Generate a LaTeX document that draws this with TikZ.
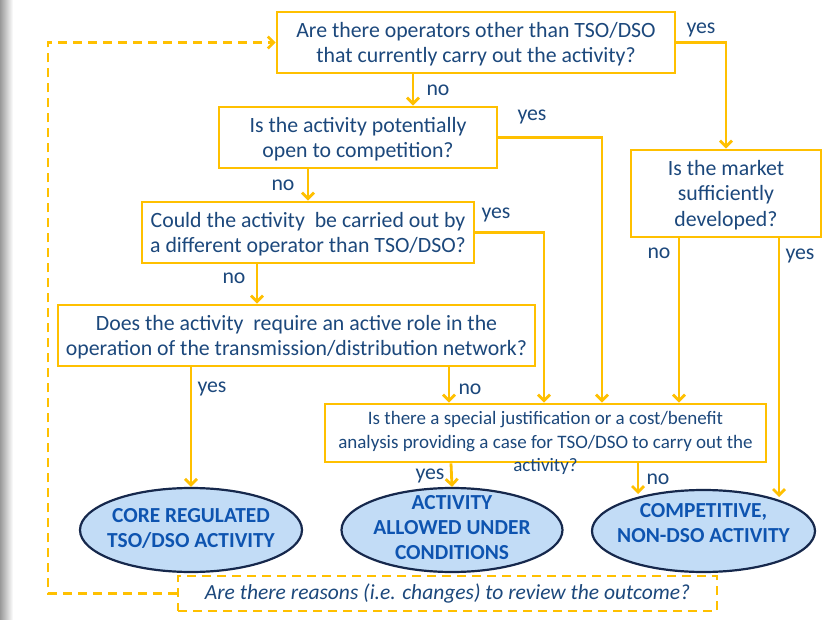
\documentclass[tikz,border=0pt]{standalone}
\usepackage{fontspec}
\setmainfont{Carlito}
\usetikzlibrary{arrows.meta,shapes.geometric,calc}
\definecolor{amber}{RGB}{255,192,0}
\definecolor{txt}{RGB}{28,72,124}
\definecolor{ellfill}{RGB}{194,220,246}
\definecolor{ellline}{RGB}{22,40,76}
\definecolor{elltxt}{RGB}{14,84,176}
\begin{document}
\begin{tikzpicture}[x=1pt,y=-1pt,
  qbox/.style={draw=amber, line width=2.8pt, inner sep=0pt},
  qtxt/.style={text=txt, align=center, inner sep=0pt, font=\fontsize{21.8}{25.5}\selectfont},
  smalltxt/.style={text=txt, align=center, inner sep=0pt, font=\fontsize{19}{23.5}\selectfont},
  outcome/.style={ellipse, draw=ellline, line width=2.2pt, fill=ellfill, inner sep=0pt},
  outtxt/.style={text=elltxt, align=center, inner sep=0pt, font=\bfseries\fontsize{21.4}{25}\selectfont},
  lbl/.style={text=txt, inner sep=0pt, font=\fontsize{21.8}{25}\selectfont},
  arr/.style={draw=amber, line width=2.8pt, -{Straight Barb[length=6pt,width=12pt]}},
  dashline/.style={draw=amber, line width=2.6pt, dash pattern=on 9pt off 6pt},
]
\useasboundingbox (0,0) rectangle (827,620);
\fill[white] (0,0) rectangle (827,620);
\shade[left color=black!40, right color=white] (0,0) rectangle (13,620);

% question boxes
\node[qbox, minimum width=398pt, minimum height=61pt] (b1) at (476,42.5) {};
\node[qtxt] (b1t) at (476,44)
  {Are there operators other than TSO/DSO\\that currently carry out the activity?};
\node[qbox, minimum width=278pt, minimum height=61pt] (b2) at (358,137.5) {};
\node[qtxt] (b2t) at (358,139)
  {Is the activity potentially\\open to competition?};
\node[qbox, minimum width=332pt, minimum height=61pt] (b3) at (308,232.5) {};
\node[qtxt] (b3t) at (308,234)
  {Could the activity\ \ be carried out by\\a different operator than TSO/DSO?};
\node[qbox, minimum width=477pt, minimum height=61pt] (b4) at (296.5,335.5) {};
\node[qtxt] (b4t) at (296.5,337)
  {Does the activity\ \ require an active role in the\\operation of the transmission/distribution network?};
\node[qbox, minimum width=190pt, minimum height=87pt] (mk) at (726,193.5) {};
\node[qtxt] (mkt) at (726,195)
  {Is the market\\sufficiently\\developed?};
\node[qbox, minimum width=441pt, minimum height=58pt] (b5) at (545.5,433) {};
\node[smalltxt] (b5t) at (545.5,443)
  {Is there a special justification or a cost/benefit\\analysis providing a case for TSO/DSO to carry out the\\activity?};

% outcomes
\node[outcome, minimum width=222pt, minimum height=84pt] (e1) at (191,530) {};
\node[outtxt] (e1t) at (191,528) {CORE REGULATED\\TSO/DSO ACTIVITY};
\node[outcome, minimum width=221pt, minimum height=84pt] (e2) at (452,530) {};
\node[outtxt] (e2t) at (452,528) {ACTIVITY\\ALLOWED UNDER\\CONDITIONS};
\node[outcome, minimum width=223pt, minimum height=82pt] (e3) at (703.5,531) {};
\node[outtxt] (e3t) at (703.5,523) {COMPETITIVE,\\NON-DSO ACTIVITY};

% review box
\node[draw=amber, line width=2.2pt, dash pattern=on 9pt off 6pt, minimum width=539pt,
  minimum height=35pt, inner sep=0pt, text=txt, font=\itshape\fontsize{21.5}{25}\selectfont]
  (rv) at (447.5,593.5) {Are there reasons (i.e. changes) to review the outcome?};

% helper coordinates
\coordinate (c413) at (413,0);
\coordinate (c308) at (308,0);
\coordinate (c257) at (257,0);
\coordinate (c602) at (602,0);
\coordinate (c544) at (544,0);
\coordinate (c191) at (191,0);
\coordinate (c449) at (449,0);
\coordinate (c679) at (679,0);
\coordinate (c779) at (779,0);
\coordinate (c451) at (451,0);
\coordinate (c638) at (638,0);
\coordinate (e3a) at (779,497);
\coordinate (e3b) at (638,494);
\coordinate (lp) at (48,42.5);

% connectors
\draw[arr] (b1.east) -| (mk.north);
\draw[arr] (b1.south -| c413) -- (b2.north -| c413);
\draw[arr] (b2.east) -| (b5.north -| c602);
\draw[arr] (b2.south -| c308) -- (b3.north -| c308);
\draw[arr] (b3.east) -| (b5.north -| c544);
\draw[arr] (b3.south -| c257) -- (b4.north -| c257);
\draw[arr] (b4.south -| c191) -- (e1.north);
\draw[arr] (b4.south -| c449) -- (b5.north -| c449);
\draw[arr] (mk.south -| c679) -- (b5.north -| c679);
\draw[arr] (mk.south -| c779) -- (e3a);
\draw[arr] (b5.south -| c451) -- (e2.north);
\draw[arr] (b5.south -| c638) -- (e3b);
\draw[dashline, -{Straight Barb[length=6pt,width=12pt]}] (rv.west) -| (lp) -- (b1.west);

% labels
\node[lbl] (l1) at (701,30) {yes};
\node[lbl] (l2) at (438,90) {no};
\node[lbl] (l3) at (532,117) {yes};
\node[lbl] (l4) at (283,185) {no};
\node[lbl] (l5) at (496,215) {yes};
\node[lbl] (l6) at (234,278) {no};
\node[lbl] (l7) at (659,253) {no};
\node[lbl] (l8) at (800,256) {yes};
\node[lbl] (l9) at (212,389) {yes};
\node[lbl] (l10) at (470,389) {no};
\node[lbl] (l11) at (430,476) {yes};
\node[lbl] (l12) at (658,479) {no};
\end{tikzpicture}
\end{document}
